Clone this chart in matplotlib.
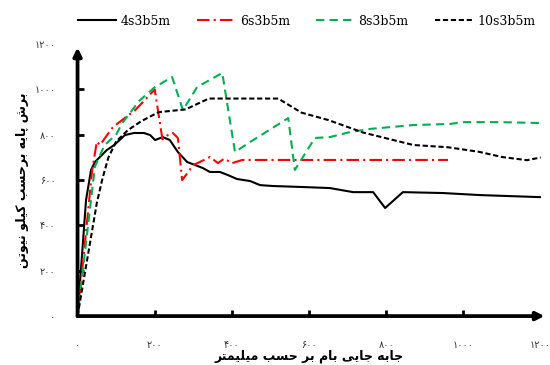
#!/usr/bin/env python3
"""plot_pushover.py"""

import matplotlib
matplotlib.use("Agg")
import matplotlib.pyplot as plt
from matplotlib.ticker import FuncFormatter

# displacement (mm) / base shear (kN) for each frame
disp_4s = [0, 22, 35, 45, 76, 95, 123, 146, 172, 188, 201, 221, 239, 260, 284, 304, 325,
           343, 369, 390, 413, 447, 473, 506, 576, 654, 714, 766, 797, 843, 947, 1043, 1198]
shear_4s = [0, 512, 645, 680, 733, 755, 799, 808, 808, 799, 777, 790, 777, 724, 680, 667, 653,
            636, 636, 622, 605, 596, 578, 574, 570, 565, 547, 547, 477, 547, 543, 534, 525]

disp_6s = [0, 38, 50, 58, 90, 100, 150, 200, 220, 235, 247, 260, 271, 300, 317, 343, 364,
           380, 400, 427, 960]
shear_6s = [0, 645, 770, 755, 830, 845, 910, 1000, 780, 800, 808, 786, 600, 667, 680, 702, 675,
            695, 675, 689, 689]

disp_8s = [0, 45, 70, 100, 115, 160, 200, 245, 273, 310, 375, 408, 447, 546, 563, 615, 654,
           706, 758, 870, 965, 1000, 1090, 1200]
shear_8s = [0, 660, 755, 800, 850, 950, 1010, 1055, 909, 1011, 1073, 724, 768, 874, 645, 786, 790,
            812, 826, 843, 848, 856, 856, 852]

disp_10s = [0, 30, 50, 65, 80, 100, 130, 165, 210, 280, 340, 520, 580, 650, 740, 870, 960,
            1040, 1100, 1165, 1200]
shear_10s = [0, 300, 500, 610, 700, 770, 820, 860, 900, 912, 960, 960, 898, 865, 810, 755, 745,
             725, 702, 688, 700]

ticks = [0, 200, 400, 600, 800, 1000, 1200]
x_title = "جابه جایی بام بر حسب میلیمتر"
y_title = "برش پایه برحسب کیلو نیوتن"

# contextual glyph forms: (isolated, final, initial, medial)
FORMS = {
    'ا': (0xFE8D, 0xFE8E), 'ب': (0xFE8F, 0xFE90, 0xFE91, 0xFE92),
    'پ': (0xFB56, 0xFB57, 0xFB58, 0xFB59), 'ت': (0xFE95, 0xFE96, 0xFE97, 0xFE98),
    'ج': (0xFE9D, 0xFE9E, 0xFE9F, 0xFEA0), 'ح': (0xFEA1, 0xFEA2, 0xFEA3, 0xFEA4),
    'ر': (0xFEAD, 0xFEAE), 'س': (0xFEB1, 0xFEB2, 0xFEB3, 0xFEB4),
    'ش': (0xFEB5, 0xFEB6, 0xFEB7, 0xFEB8), 'ک': (0xFB8E, 0xFB8F, 0xFB90, 0xFB91),
    'ل': (0xFEDD, 0xFEDE, 0xFEDF, 0xFEE0), 'م': (0xFEE1, 0xFEE2, 0xFEE3, 0xFEE4),
    'ن': (0xFEE5, 0xFEE6, 0xFEE7, 0xFEE8), 'ه': (0xFEE9, 0xFEEA, 0xFEEB, 0xFEEC),
    'و': (0xFEED, 0xFEEE), 'ی': (0xFBFC, 0xFBFD, 0xFBFE, 0xFBFF),
}


def shape(text):
    out = []
    for i, ch in enumerate(text):
        if ch not in FORMS:
            out.append(ch)
            continue
        prev = text[i - 1] if i > 0 else ' '
        nxt = text[i + 1] if i + 1 < len(text) else ' '
        join_prev = prev in FORMS and len(FORMS[prev]) == 4
        join_next = len(FORMS[ch]) == 4 and nxt in FORMS
        f = FORMS[ch]
        if join_prev and join_next:
            out.append(chr(f[3]))
        elif join_prev:
            out.append(chr(f[1]))
        elif join_next:
            out.append(chr(f[2]))
        else:
            out.append(chr(f[0]))
    return ''.join(reversed(out))


def fa_digits(v, pos=None):
    return str(int(v)).translate(str.maketrans('0123456789', '۰۱۲۳۴۵۶۷۸۹'))


def plot(ax):
    ax.plot(disp_4s, shear_4s, color='black', lw=1.5, label='4s3b5m')
    ax.plot(disp_6s, shear_6s, color='#FF0000', lw=1.5, ls=(0, (6, 2, 1, 2)), label='6s3b5m')
    ax.plot(disp_8s, shear_8s, color='#00B050', lw=1.5, ls=(0, (4, 2.5)), label='8s3b5m')
    ax.plot(disp_10s, shear_10s, color='black', lw=1.5, ls=(0, (2.5, 1.3)), label='10s3b5m')

    ax.set_xlim(0, 1200)
    ax.set_ylim(0, 1200)
    for s in ax.spines.values():
        s.set_visible(False)
    # axis lines with arrow heads
    arrow = dict(arrowstyle='-|>', lw=2.7, color='black', mutation_scale=12, shrinkA=0, shrinkB=0)
    ax.annotate('', xy=(1210, 0), xytext=(0, 0), arrowprops=arrow, annotation_clip=False)
    ax.annotate('', xy=(0, 1185), xytext=(0, 0), arrowprops=arrow, annotation_clip=False)

    ax.set_xticks(ticks)
    ax.set_yticks(ticks)
    ax.xaxis.set_major_formatter(FuncFormatter(fa_digits))
    ax.yaxis.set_major_formatter(FuncFormatter(fa_digits))
    ax.tick_params(direction='in', length=4, width=2, labelsize=7, labelcolor='#333333')
    ax.tick_params(axis='x', pad=17)
    ax.tick_params(axis='y', pad=16)
    # no tick marks at the ends, the arrows sit there
    for axis in (ax.xaxis, ax.yaxis):
        t = axis.get_major_ticks()
        t[0].tick1line.set_visible(False)
        t[-1].tick1line.set_visible(False)

    ax.set_xlabel(shape(x_title), fontsize=9, fontweight='bold', labelpad=0)
    ax.set_ylabel(shape(y_title), fontsize=9, fontweight='bold', labelpad=4)


def main():
    fig = plt.figure(figsize=(5.5, 3.65), dpi=100)
    ax = fig.add_axes([0.141, 0.134, 0.842, 0.745])
    plot(ax)
    fig.legend(loc='center', bbox_to_anchor=(0.558, 0.942), ncol=4, frameon=False,
               prop={'family': 'DejaVu Serif', 'size': 9}, handlelength=3.0,
               handletextpad=0.4, columnspacing=2.1)
    fig.savefig('out.png', dpi=100)


if __name__ == "__main__":
    main()
